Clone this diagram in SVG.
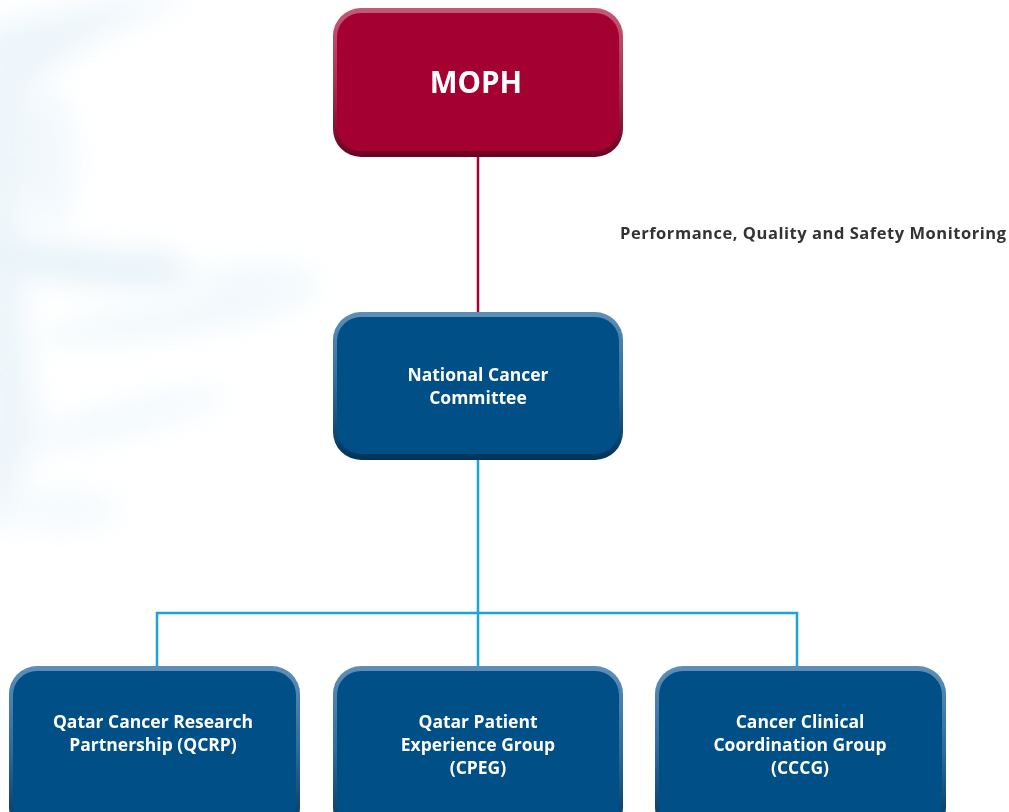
<svg xmlns="http://www.w3.org/2000/svg" width="1009" height="812" viewBox="0 0 1009 812">
<defs>
<style>
.t{font-family:"Open Sans","Liberation Sans",sans-serif;font-weight:bold;fill:#fff;text-anchor:middle}
.lbl{font-family:"Open Sans","Liberation Sans",sans-serif;font-weight:bold;fill:#333;font-size:16.5px}
.blue-edge{fill:url(#gb)}
.blue-face{fill:#004f86}
.red-edge{fill:url(#gr)}
.red-face{fill:#a50032}
</style>
<linearGradient id="gb" x1="0" y1="0" x2="0" y2="1">
<stop offset="0" stop-color="#5d8fb8"/>
<stop offset="0.5" stop-color="#2f6a9a"/>
<stop offset="1" stop-color="#00335a"/>
</linearGradient>
<linearGradient id="gr" x1="0" y1="0" x2="0" y2="1">
<stop offset="0" stop-color="#c45a78"/>
<stop offset="0.5" stop-color="#a8304f"/>
<stop offset="1" stop-color="#6d0020"/>
</linearGradient>
<filter id="blur" x="-50%" y="-50%" width="200%" height="200%">
<feGaussianBlur stdDeviation="14"/>
</filter>
</defs>
<rect width="1009" height="812" fill="#fff"/>
<g id="background" filter="url(#blur)" opacity="0.5">
<path d="M-20,30 Q100,-5 200,-5 Q90,30 30,90 Q10,250 40,430 Q10,520 -20,540 Z" fill="#dcedf6"/>
<ellipse cx="50" cy="160" rx="25" ry="70" fill="#e4f2f9"/>
<ellipse cx="80" cy="265" rx="120" ry="18" fill="#cfe6f2" transform="rotate(6 80 265)"/>
<ellipse cx="150" cy="265" rx="30" ry="14" fill="#cfe6f2"/>
<ellipse cx="170" cy="320" rx="130" ry="14" fill="#e0f0f7" transform="rotate(-8 170 320)"/>
<ellipse cx="120" cy="420" rx="110" ry="16" fill="#e6f3f9" transform="rotate(-14 120 420)"/>
<ellipse cx="60" cy="510" rx="60" ry="20" fill="#eaf5fa"/>
<ellipse cx="260" cy="285" rx="60" ry="22" fill="#e6f3f9"/>
</g>
<g id="connectors" fill="none" stroke-width="2.5">
<line x1="478" y1="156" x2="478" y2="312" stroke="#a50032"/>
<line x1="478" y1="460" x2="478" y2="666" stroke="#1ba3dc"/>
<polyline points="157,666 157,613 797,613 797,666" stroke="#1ba3dc"/>
</g>
<g id="moph">
<rect x="333" y="8" width="290" height="149" rx="28" class="red-edge"/>
<rect x="337" y="13" width="282" height="138" rx="24" class="red-face"/>
<text x="476" y="93" class="t" font-size="29.5">MOPH</text>
</g>
<g id="ncc">
<rect x="333" y="312" width="290" height="148" rx="28" class="blue-edge"/>
<rect x="337" y="317" width="282" height="137" rx="24" class="blue-face"/>
<text class="t" font-size="17.5"><tspan x="478" y="381">National Cancer</tspan><tspan x="478" y="404">Committee</tspan></text>
</g>
<g id="label">
<text x="620" y="239" class="lbl" textLength="386" lengthAdjust="spacing">Performance, Quality and Safety Monitoring</text>
</g>
<g id="qcrp">
<rect x="9" y="666" width="291" height="170" rx="28" class="blue-edge"/>
<rect x="13" y="671" width="283" height="160" rx="24" class="blue-face"/>
<text class="t" font-size="17.5"><tspan x="153" y="728">Qatar Cancer Research</tspan><tspan x="153" y="751">Partnership (QCRP)</tspan></text>
</g>
<g id="cpeg">
<rect x="333" y="666" width="290" height="170" rx="28" class="blue-edge"/>
<rect x="337" y="671" width="282" height="160" rx="24" class="blue-face"/>
<text class="t" font-size="17.5"><tspan x="478" y="728">Qatar Patient</tspan><tspan x="478" y="751">Experience Group</tspan><tspan x="478" y="774">(CPEG)</tspan></text>
</g>
<g id="cccg">
<rect x="655" y="666" width="291" height="170" rx="28" class="blue-edge"/>
<rect x="659" y="671" width="283" height="160" rx="24" class="blue-face"/>
<text class="t" font-size="17.5"><tspan x="800" y="728">Cancer Clinical</tspan><tspan x="800" y="751">Coordination Group</tspan><tspan x="800" y="774">(CCCG)</tspan></text>
</g>
</svg>
